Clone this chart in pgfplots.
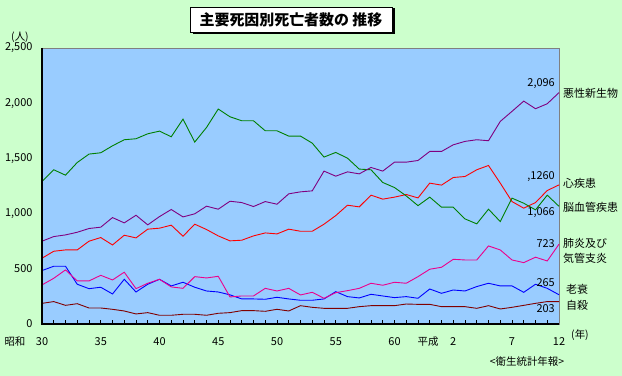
\documentclass[border=0pt]{standalone}
\usepackage{fontspec}
\setmainfont{Noto Sans CJK JP}
\usepackage{pgfplots}
\pgfplotsset{compat=1.18}
\definecolor{bgc}{HTML}{CCFFCC}
\definecolor{plotbg}{HTML}{99CCFF}
\definecolor{cpurple}{HTML}{800080}
\definecolor{cgreen}{HTML}{008000}
\definecolor{cmaroon}{HTML}{800000}
\begin{document}
\begin{tikzpicture}
\fill[bgc] (-42bp,-52bp) rectangle (580bp,324bp);
\begin{axis}[
  at={(0,0)}, anchor=south west, scale only axis,
  width=517bp, height=276bp,
  xmin=0, xmax=44, ymin=0, ymax=2500,
  axis background/.style={fill=plotbg},
  axis line style={draw=gray, line width=0.8bp},
  xtick={0,5,10,15,20,25,30,35,40,44},
  xticklabels={30,35,40,45,50,55,60,2,7,12},
  minor xtick={1,...,43},
  ytick={0,500,1000,1500,2000,2500},
  tick align=inside, xtick pos=bottom, ytick pos=left,
  major tick length=4bp, minor tick length=4bp,
  xtick style={draw=black, line width=0.6bp},
  minor tick style={draw=black, line width=0.6bp},
  ytick style={draw=none},
  /pgf/number format/assume math mode=true,
  /pgf/number format/1000 sep={,},
  ticklabel style={font=\fontsize{11}{13}\selectfont},
  yticklabel style={xshift=-6bp},
  xticklabel style={anchor=center, yshift=-17.7bp},
  every axis plot/.append style={line width=0.9bp, no markers},
  clip=false,
]
\addplot[cmaroon] coordinates {(0,187)(1,203)(2,169)(3,184)(4,145)(5,145)(6,133)(7,118)(8,91)(9,103)(10,79)(11,79)(12,88)(13,88)(14,79)(15,97)(16,103)(17,121)(18,121)(19,115)(20,133)(21,118)(22,166)(23,151)(24,142)(25,142)(26,142)(27,157)(28,166)(29,166)(30,166)(31,181)(32,178)(33,178)(34,157)(35,157)(36,157)(37,142)(38,166)(39,136)(40,151)(41,169)(42,187)(43,203)(44,203)};
\addplot[blue] coordinates {(0,484)(1,523)(2,523)(3,360)(4,320)(5,333)(6,272)(7,405)(8,290)(9,360)(10,405)(11,345)(12,378)(13,333)(14,299)(15,290)(16,264)(17,227)(18,227)(19,224)(20,242)(21,227)(22,215)(23,215)(24,227)(25,293)(26,248)(27,236)(28,269)(29,254)(30,239)(31,248)(32,233)(33,317)(34,278)(35,308)(36,299)(37,339)(38,369)(39,345)(40,345)(41,287)(42,360)(43,323)(44,265)};
\addplot[magenta] coordinates {(0,354)(1,414)(2,490)(3,390)(4,390)(5,441)(6,399)(7,469)(8,320)(9,369)(10,405)(11,336)(12,323)(13,429)(14,417)(15,432)(16,245)(17,254)(18,254)(19,323)(20,299)(21,323)(22,263)(23,287)(24,233)(25,284)(26,302)(27,323)(28,369)(29,351)(30,378)(31,369)(32,429)(33,496)(34,514)(35,586)(36,580)(37,580)(38,707)(39,671)(40,580)(41,556)(42,605)(43,571)(44,723)};
\addplot[red] coordinates {(0,596)(1,659)(2,671)(3,671)(4,750)(5,783)(6,716)(7,804)(8,780)(9,859)(10,868)(11,895)(12,795)(13,904)(14,856)(15,798)(16,753)(17,759)(18,798)(19,825)(20,816)(21,859)(22,840)(23,840)(24,904)(25,982)(26,1076)(27,1061)(28,1167)(29,1131)(30,1149)(31,1173)(32,1142)(33,1276)(34,1258)(35,1327)(36,1336)(37,1397)(38,1436)(39,1276)(40,1109)(41,1049)(42,1100)(43,1209)(44,1260)};
\addplot[cgreen] coordinates {(0,1291)(1,1397)(2,1348)(3,1463)(4,1539)(5,1551)(6,1614)(7,1669)(8,1678)(9,1723)(10,1747)(11,1696)(12,1856)(13,1648)(14,1780)(15,1947)(16,1877)(17,1841)(18,1841)(19,1750)(20,1750)(21,1702)(22,1702)(23,1638)(24,1512)(25,1554)(26,1502)(27,1403)(28,1397)(29,1282)(30,1236)(31,1160)(32,1072)(33,1149)(34,1058)(35,1058)(36,952)(37,907)(38,1040)(39,928)(40,1140)(41,1094)(42,1034)(43,1167)(44,1066)};
\addplot[cpurple] coordinates {(0,750)(1,792)(2,807)(3,831)(4,865)(5,877)(6,964)(7,916)(8,985)(9,898)(10,973)(11,1037)(12,970)(13,998)(14,1067)(15,1040)(16,1112)(17,1100)(18,1064)(19,1109)(20,1085)(21,1179)(22,1197)(23,1206)(24,1385)(25,1339)(26,1378)(27,1360)(28,1418)(29,1385)(30,1466)(31,1466)(32,1481)(33,1563)(34,1563)(35,1623)(36,1654)(37,1669)(38,1660)(39,1835)(40,1926)(41,2019)(42,1950)(43,1995)(44,2096)};
\end{axis}
\draw[black, line width=1.2bp] (0,276bp) -- (0,0) -- (517bp,0);
% title
\fill[black] (151bp,290bp) rectangle (353bp,316bp);
\node[draw=black, fill=white, line width=0.8bp, minimum width=202bp, minimum height=25bp, inner sep=0pt, font=\fontsize{15}{17}\selectfont\bfseries] at (249bp,304.5bp) {主要死因別死亡者数の 推移};
% axis annotations
\begin{scope}[every node/.style={font=\fontsize{10.5}{12}\selectfont, inner sep=0pt}]
\node at (-22bp,287bp) {(人)};
\node at (-27bp,-17.7bp) {昭和};
\node at (386bp,-17.7bp) {平成};
\node at (538bp,-11bp) {(年)};
\node at (485bp,-37.7bp) {<衛生統計年報>};
\end{scope}
\begin{scope}[every node/.style={font=\fontsize{11}{13}\selectfont, inner sep=0pt}]
\node[anchor=east] at (513bp,240bp) {2,096};
\node[anchor=east] at (513bp,147bp) {,1260};
\node[anchor=east] at (513bp,111bp) {1,066};
\node[anchor=east] at (513bp,80bp) {723};
\node[anchor=east] at (513bp,41bp) {265};
\node[anchor=east] at (513bp,15bp) {203};
\end{scope}
\begin{scope}[every node/.style={font=\fontsize{11}{13}\selectfont, inner sep=0pt, anchor=west}]
\node at (521bp,231bp) {悪性新生物};
\node at (521bp,141bp) {心疾患};
\node at (521bp,117bp) {脳血管疾患};
\node at (521bp,81bp) {肺炎及び};
\node at (521bp,66bp) {気管支炎};
\node at (524bp,35bp) {老衰};
\node at (524bp,19bp) {自殺};
\end{scope}
\end{tikzpicture}
\end{document}
